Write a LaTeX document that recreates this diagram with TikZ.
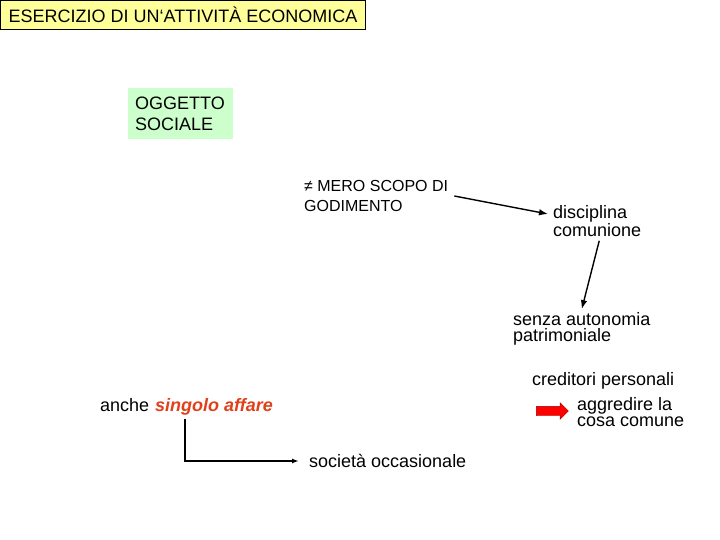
\documentclass[tikz,border=0pt]{standalone}
\usepackage{fontspec}
\setmainfont{Liberation Sans}
\usetikzlibrary{arrows.meta,shapes.arrows}
\definecolor{titleyellow}{HTML}{FFFF99}
\definecolor{boxgreen}{HTML}{CCFFCC}
\definecolor{affarered}{HTML}{E0401A}
\newcommand\tightlines{\lineskiplimit=-20pt\relax}
\begin{document}
\begin{tikzpicture}[x=1pt, y=-1pt,
  every node/.style = {align=left, inner sep=2pt},
  txt/.style = {font=\fontsize{18}{16.5}\selectfont\tightlines},
  wide/.style = {font=\fontsize{18}{18}\selectfont\tightlines},
  thin/.style = {font=\fontsize{16}{20}\selectfont\tightlines},
  link/.style = {draw, line width=1.4pt, -{Latex[length=9pt,width=6.5pt]}}]
  \useasboundingbox (0,0) rectangle (720,540);
  \node[draw, fill=titleyellow, minimum width=365pt, minimum height=29pt,
    font=\fontsize{18}{20}\selectfont] (title) at (183,15) {ESERCIZIO DI UN‘ATTIVITÀ ECONOMICA};
  \node[fill=boxgreen, minimum width=105pt, minimum height=51pt, inner sep=6pt,
    font=\fontsize{18}{21}\selectfont] (oggetto) at (180,113.5) {OGGETTO\\SOCIALE};
  \node[thin, anchor=west] (godimento) at (302,196) {≠ MERO SCOPO DI\\GODIMENTO};
  \node[wide, anchor=west] (disciplina) at (551,221) {disciplina\\comunione};
  \node[txt, anchor=west] (senza) at (511,329) {senza autonomia\\patrimoniale};
  \node[txt, anchor=west] (creditori) at (530,381) {creditori personali};
  \node[txt, anchor=west] (aggredire) at (575,412) {aggredire la\\cosa comune};
  \node[txt, anchor=base west, inner sep=0pt] (anche) at (100,411) {anche};
  \node[anchor=base west, inner sep=0pt, text=affarered, font=\fontsize{18}{20}\selectfont\bfseries\itshape]
    (affare) at (155,411) {singolo affare};
  \node[txt, anchor=west] (occas) at (307,461) {società occasionale};
  \node[single arrow, draw=red!60!black, fill=red, minimum height=32pt,
    inner sep=4.5pt, single arrow head extend=3.5pt] (push) at (550,411) {};
  \draw[link] ([xshift=4pt]godimento.east |- 0,196) -- ([xshift=-3pt,yshift=7pt]disciplina.west);
  \draw[link] (disciplina.south) ++(2,2) -- ([yshift=1pt]senza.north);
  \draw[line width=1.4pt, -{Latex[length=7pt,width=5pt]}, shorten >=8pt]
    ([xshift=30pt,yshift=-4pt]affare.south west) |- (occas.west);
\end{tikzpicture}
\end{document}
